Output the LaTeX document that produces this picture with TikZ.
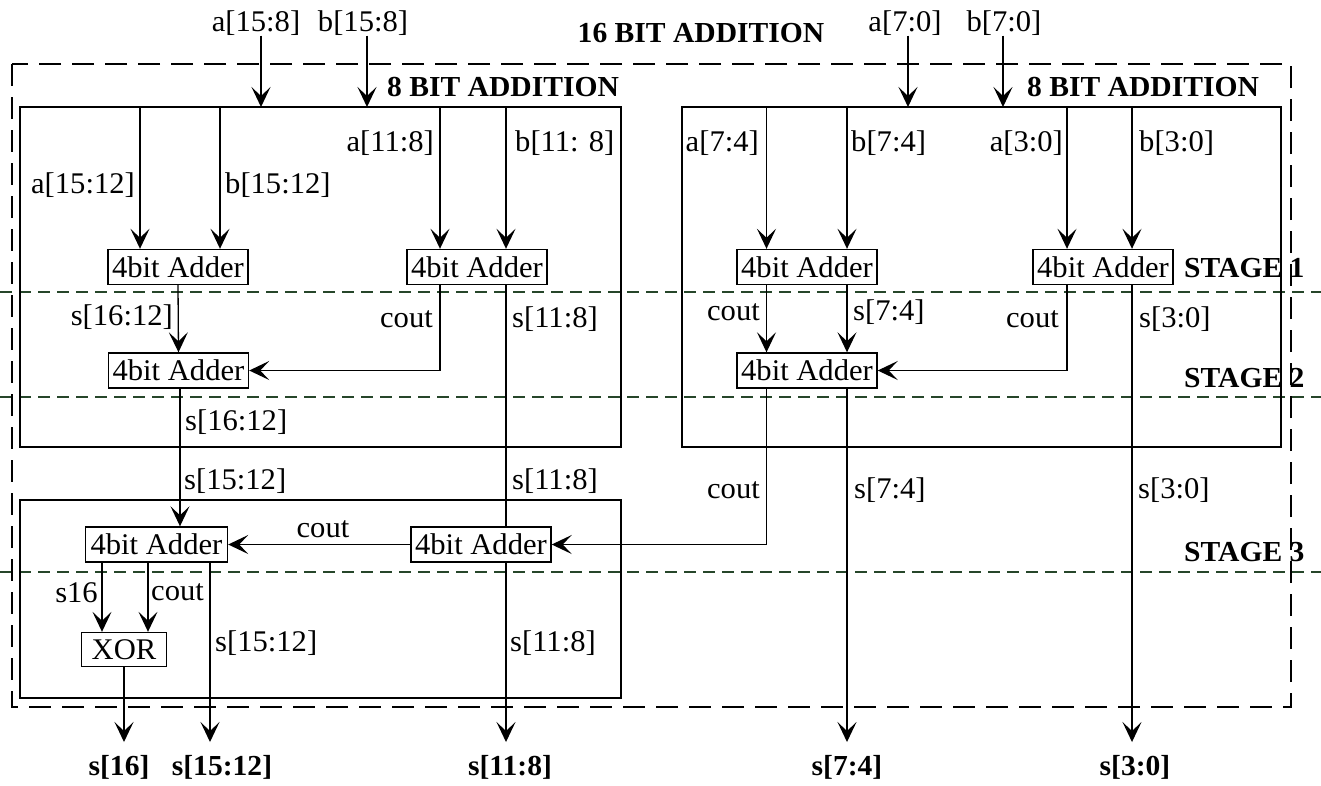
\documentclass[tikz,border=0pt]{standalone}
\usepackage{fontspec}
\setmainfont{Liberation Serif}[FakeStretch=1.02]
\usetikzlibrary{arrows.meta}
\definecolor{stagegreen}{RGB}{38,70,42}
\begin{document}
\begin{tikzpicture}[x=1pt,y=-1pt,
  font=\fontsize{30}{32}\selectfont,
  wire/.style={line width=1.3pt},
  arr/.style={wire,-{Stealth[length=20pt,width=19pt,inset=9pt]}},
  adder/.style={draw,line width=1.4pt,minimum width=140pt,minimum height=35pt,inner sep=0pt},
  lbl/.style={inner sep=0pt},
  blbl/.style={inner sep=0pt,font=\fontsize{29}{31}\selectfont\bfseries},
  group/.style={draw,line width=1.4pt},
  stageline/.style={draw=stagegreen,line width=2.8pt,dash pattern=on 12pt off 7pt},
  outer/.style={draw,line width=2.8pt,dash pattern=on 22pt off 11pt}]
\useasboundingbox (0,0) rectangle (1321,785);

% stage separators
\draw[stageline] (0,292) -- (1321,292);
\draw[stageline] (0,397) -- (1321,397);
\draw[stageline] (0,572) -- (1321,572);

% group boxes
\draw[group] (20,107) rectangle (621,447);
\draw[group] (682,107) rectangle (1281,447);
\draw[group] (20,500) rectangle (621,698);

% titles
\node[blbl] (t16) at (701,33) {16 BIT ADDITION};
\node[blbl,anchor=west] (t8l) at (387,87) {8 BIT ADDITION};
\node[blbl,anchor=west] (t8r) at (1027,87) {8 BIT ADDITION};
\node[blbl,anchor=west] (st1) at (1184,268) {STAGE 1};
\node[blbl,anchor=west] (st2) at (1184,378) {STAGE 2};
\node[blbl,anchor=west] (st3) at (1184,552) {STAGE 3};

% adders
\node[adder] (L1) at (178,267) {4bit Adder};
\node[adder] (L2) at (477,267) {4bit Adder};
\node[adder] (L3) at (178.5,370.5) {4bit Adder};
\node[adder] (R1) at (807,267) {4bit Adder};
\node[adder] (R2) at (1103,267) {4bit Adder};
\node[adder] (R3) at (807,370.5) {4bit Adder};
\node[adder] (S1) at (481,544.5) {4bit Adder};
\node[adder,minimum width=142pt] (S2) at (156.5,544.5) {4bit Adder};
\node[adder,minimum width=85pt,minimum height=34pt] (X) at (124,649.5) {XOR};

% top inputs
\node[lbl] (a158) at (256,23) {a[15:8]};
\node[lbl] (b158) at (363,23) {b[15:8]};
\node[lbl] (a70) at (905,23) {a[7:0]};
\node[lbl] (b70) at (1004,23) {b[7:0]};
\coordinate (pa158) at (261,107);
\coordinate (pb158) at (367,107);
\coordinate (pa70) at (908,107);
\coordinate (pb70) at (1003,107);
\draw[arr] (a158.south -| pa158) -- (pa158);
\draw[arr] (b158.south -| pb158) -- (pb158);
\draw[arr] (a70.south -| pa70) -- (pa70);
\draw[arr] (b70.south -| pb70) -- (pb70);

% split points on group tops
\coordinate (i1) at (140,107);
\coordinate (i2) at (220,107);
\coordinate (i3) at (440,107);
\coordinate (i4) at (506,107);
\coordinate (i5) at (766.5,107);
\coordinate (i6) at (847,107);
\coordinate (i7) at (1067,107);
\coordinate (i8) at (1132,107);

\draw[arr] (i1) -- (i1 |- L1.north);
\draw[arr] (i2) -- (i2 |- L1.north);
\draw[arr] (i3) -- (i3 |- L2.north);
\draw[arr] (i4) -- (i4 |- L2.north);
\draw[arr] (i5) -- (i5 |- R1.north);
\draw[arr] (i6) -- (i6 |- R1.north);
\draw[arr] (i7) -- (i7 |- R2.north);
\draw[arr] (i8) -- (i8 |- R2.north);

\node[lbl,anchor=east] (la1) at (135,185) {a[15:12]};
\node[lbl,anchor=west] (lb1) at (225,185) {b[15:12]};
\node[lbl,anchor=east] (la2) at (434,143) {a[11:8]};
\node[lbl,anchor=west] (lb2) at (515,143) {b[11: 8]};
\node[lbl,anchor=east] (la3) at (759,143) {a[7:4]};
\node[lbl,anchor=west] (lb3) at (851,143) {b[7:4]};
\node[lbl,anchor=east] (la4) at (1063,143) {a[3:0]};
\node[lbl,anchor=west] (lb4) at (1139,143) {b[3:0]};

% outputs
\coordinate (e16) at (124,742);
\coordinate (e1512) at (210,742);
\coordinate (e118) at (506,742);
\coordinate (e74) at (847,742);
\coordinate (e30) at (1132,742);
\node[blbl] (o16) at (119,767) {s[16]};
\node[blbl] (o1512) at (222,767) {s[15:12]};
\node[blbl] (o118) at (510,767) {s[11:8]};
\node[blbl] (o74) at (847,767) {s[7:4]};
\node[blbl] (o30) at (1135,767) {s[3:0]};

% left half connections
\draw[arr] (L1.south) -- (L3.north);
\draw[arr] (L2.south -| i3) |- (L3.east);
\draw[wire] (L2.south -| i4) -- (S1.north -| i4);
\draw[arr] (L3.south -| 180,0) -- (S2.north -| 180,0);
\draw[arr] (S1.west) -- (S2.east);
\draw[arr] (S1.south -| i4) -- (e118);

% right half connections
\draw[arr] (R1.south -| i5) -- (R3.north -| i5);
\draw[arr] (R1.south -| i6) -- (R3.north -| i6);
\draw[arr] (R2.south -| i7) |- (R3.east);
\draw[arr] (R2.south -| i8) -- (e30);
\draw[arr] (R3.south -| i5) |- (S1.east);
\draw[arr] (R3.south -| i6) -- (e74);

% stage 3 bottom
\draw[arr] (S2.south -| 102,0) -- (X.north -| 102,0);
\draw[arr] (S2.south -| 148,0) -- (X.north -| 148,0);
\draw[arr] (S2.south -| e1512) -- (e1512);
\draw[arr] (X.south) -- (e16);

% wire labels
\node[lbl,anchor=east] at (173,317) {s[16:12]};
\node[lbl,anchor=east] at (433,319) {cout};
\node[lbl,anchor=west] at (512,319) {s[11:8]};
\node[lbl,anchor=west] at (185,422) {s[16:12]};
\node[lbl,anchor=west] at (184,481) {s[15:12]};
\node[lbl,anchor=west] at (512,481) {s[11:8]};
\node[lbl] at (323,529) {cout};
\node[lbl,anchor=east] at (98,593) {s16};
\node[lbl,anchor=west] at (151,592) {cout};
\node[lbl,anchor=west] at (215,643) {s[15:12]};
\node[lbl,anchor=west] at (510,643) {s[11:8]};
\node[lbl,anchor=east] at (760,312) {cout};
\node[lbl,anchor=west] at (853,312) {s[7:4]};
\node[lbl,anchor=east] at (1059,319) {cout};
\node[lbl,anchor=west] at (1139,319) {s[3:0]};
\node[lbl,anchor=east] at (760,490) {cout};
\node[lbl,anchor=west] at (854,490) {s[7:4]};
\node[lbl,anchor=west] at (1138,490) {s[3:0]};

% outer dashed frame
\draw[outer] (12,64) rectangle (1291,707);
\end{tikzpicture}
\end{document}
